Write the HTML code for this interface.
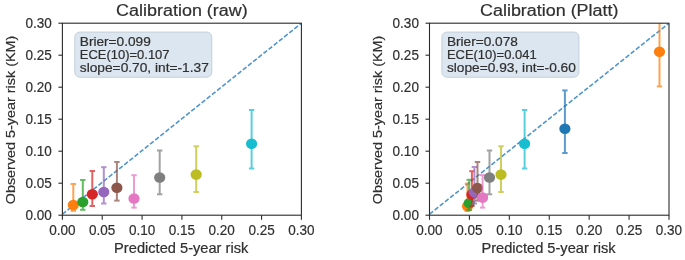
<!DOCTYPE html>
<html><head><meta charset="utf-8"><style>
html,body{margin:0;padding:0;background:#fff;}
svg{display:block;filter:blur(0.4px);}
text{font-family:"Liberation Sans",sans-serif;fill:#303030;stroke:#303030;stroke-width:0.2px;}
</style></head><body>
<svg width="685" height="260" viewBox="0 0 685 260">
<rect width="685" height="260" fill="#fff"/>
<text x="116.11" y="16.10" font-size="15.98" textLength="131.58" lengthAdjust="spacingAndGlyphs">Calibration (raw)</text>
<clipPath id="c62"><rect x="62.4" y="23.2" width="238.99999999999997" height="192.0"/></clipPath>
<g clip-path="url(#c62)">
<line x1="62.4" y1="214.2" x2="302.0" y2="22.7" stroke="#5095cb" stroke-width="1.6" stroke-dasharray="4.6 2.0"/>
<g stroke="#ff7f0e" stroke-width="2.0" opacity="0.72"><line x1="73.3" y1="184.0" x2="73.3" y2="210.8"/><line x1="70.6" y1="184.0" x2="76.0" y2="184.0"/><line x1="70.6" y1="210.8" x2="76.0" y2="210.8"/></g>
<ellipse cx="73.3" cy="205.0" rx="5.6" ry="5.3" fill="#ff7f0e"/>
<g stroke="#2ca02c" stroke-width="2.0" opacity="0.72"><line x1="82.8" y1="180.0" x2="82.8" y2="209.8"/><line x1="80.1" y1="180.0" x2="85.5" y2="180.0"/><line x1="80.1" y1="209.8" x2="85.5" y2="209.8"/></g>
<ellipse cx="82.8" cy="202.0" rx="5.6" ry="5.3" fill="#2ca02c"/>
<g stroke="#d62728" stroke-width="2.0" opacity="0.72"><line x1="92.3" y1="171.0" x2="92.3" y2="206.0"/><line x1="89.6" y1="171.0" x2="95.0" y2="171.0"/><line x1="89.6" y1="206.0" x2="95.0" y2="206.0"/></g>
<ellipse cx="92.3" cy="194.2" rx="5.6" ry="5.3" fill="#d62728"/>
<g stroke="#9467bd" stroke-width="2.0" opacity="0.72"><line x1="103.8" y1="167.2" x2="103.8" y2="203.5"/><line x1="101.1" y1="167.2" x2="106.5" y2="167.2"/><line x1="101.1" y1="203.5" x2="106.5" y2="203.5"/></g>
<ellipse cx="103.8" cy="192.0" rx="5.6" ry="5.3" fill="#9467bd"/>
<g stroke="#8c564b" stroke-width="2.0" opacity="0.72"><line x1="116.9" y1="162.0" x2="116.9" y2="200.6"/><line x1="114.2" y1="162.0" x2="119.60000000000001" y2="162.0"/><line x1="114.2" y1="200.6" x2="119.60000000000001" y2="200.6"/></g>
<ellipse cx="116.9" cy="187.8" rx="5.6" ry="5.3" fill="#8c564b"/>
<g stroke="#e377c2" stroke-width="2.0" opacity="0.72"><line x1="134.0" y1="175.2" x2="134.0" y2="207.6"/><line x1="131.3" y1="175.2" x2="136.7" y2="175.2"/><line x1="131.3" y1="207.6" x2="136.7" y2="207.6"/></g>
<ellipse cx="134.0" cy="198.5" rx="5.6" ry="5.3" fill="#e377c2"/>
<g stroke="#7f7f7f" stroke-width="2.0" opacity="0.72"><line x1="159.7" y1="150.5" x2="159.7" y2="194.3"/><line x1="157.0" y1="150.5" x2="162.39999999999998" y2="150.5"/><line x1="157.0" y1="194.3" x2="162.39999999999998" y2="194.3"/></g>
<ellipse cx="159.7" cy="177.5" rx="5.6" ry="5.3" fill="#7f7f7f"/>
<g stroke="#bcbd22" stroke-width="2.0" opacity="0.72"><line x1="196.2" y1="146.3" x2="196.2" y2="192.0"/><line x1="193.5" y1="146.3" x2="198.89999999999998" y2="146.3"/><line x1="193.5" y1="192.0" x2="198.89999999999998" y2="192.0"/></g>
<ellipse cx="196.2" cy="174.6" rx="5.6" ry="5.3" fill="#bcbd22"/>
<g stroke="#17becf" stroke-width="2.0" opacity="0.72"><line x1="251.6" y1="110.0" x2="251.6" y2="168.5"/><line x1="248.9" y1="110.0" x2="254.29999999999998" y2="110.0"/><line x1="248.9" y1="168.5" x2="254.29999999999998" y2="168.5"/></g>
<ellipse cx="251.6" cy="143.8" rx="5.6" ry="5.3" fill="#17becf"/>
</g>
<rect x="74.8" y="32.1" width="137.0" height="45.1" rx="5" ry="5" fill="#dce6f0" stroke="#c3cfdb" stroke-width="1"/>
<text x="79.80" y="45.60" font-size="11.96" textLength="70.98" lengthAdjust="spacingAndGlyphs">Brier=0.099</text>
<text x="79.80" y="59.00" font-size="11.96" textLength="89.75" lengthAdjust="spacingAndGlyphs">ECE(10)=0.107</text>
<text x="79.80" y="72.40" font-size="11.96" textLength="129.00" lengthAdjust="spacingAndGlyphs">slope=0.70, int=-1.37</text>
<rect x="62.4" y="23.2" width="238.99999999999997" height="192.0" fill="none" stroke="#2b2b2b" stroke-width="1.1"/>
<line x1="62.40" y1="215.2" x2="62.40" y2="219.79999999999998" stroke="#2b2b2b" stroke-width="1.1"/>
<line x1="58.4" y1="215.20" x2="62.4" y2="215.20" stroke="#2b2b2b" stroke-width="1.1"/>
<text x="49.25" y="235.00" font-size="14.02" textLength="26.29" lengthAdjust="spacingAndGlyphs">0.00</text>
<text x="25.51" y="219.60" font-size="14.02" textLength="26.29" lengthAdjust="spacingAndGlyphs">0.00</text>
<line x1="102.23" y1="215.2" x2="102.23" y2="219.79999999999998" stroke="#2b2b2b" stroke-width="1.1"/>
<line x1="58.4" y1="183.20" x2="62.4" y2="183.20" stroke="#2b2b2b" stroke-width="1.1"/>
<text x="89.09" y="235.00" font-size="14.02" textLength="26.29" lengthAdjust="spacingAndGlyphs">0.05</text>
<text x="25.51" y="187.60" font-size="14.02" textLength="26.29" lengthAdjust="spacingAndGlyphs">0.05</text>
<line x1="142.07" y1="215.2" x2="142.07" y2="219.79999999999998" stroke="#2b2b2b" stroke-width="1.1"/>
<line x1="58.4" y1="151.20" x2="62.4" y2="151.20" stroke="#2b2b2b" stroke-width="1.1"/>
<text x="128.92" y="235.00" font-size="14.02" textLength="26.29" lengthAdjust="spacingAndGlyphs">0.10</text>
<text x="25.51" y="155.60" font-size="14.02" textLength="26.29" lengthAdjust="spacingAndGlyphs">0.10</text>
<line x1="181.90" y1="215.2" x2="181.90" y2="219.79999999999998" stroke="#2b2b2b" stroke-width="1.1"/>
<line x1="58.4" y1="119.20" x2="62.4" y2="119.20" stroke="#2b2b2b" stroke-width="1.1"/>
<text x="168.75" y="235.00" font-size="14.02" textLength="26.29" lengthAdjust="spacingAndGlyphs">0.15</text>
<text x="25.51" y="123.60" font-size="14.02" textLength="26.29" lengthAdjust="spacingAndGlyphs">0.15</text>
<line x1="221.73" y1="215.2" x2="221.73" y2="219.79999999999998" stroke="#2b2b2b" stroke-width="1.1"/>
<line x1="58.4" y1="87.20" x2="62.4" y2="87.20" stroke="#2b2b2b" stroke-width="1.1"/>
<text x="208.59" y="235.00" font-size="14.02" textLength="26.29" lengthAdjust="spacingAndGlyphs">0.20</text>
<text x="25.51" y="91.60" font-size="14.02" textLength="26.29" lengthAdjust="spacingAndGlyphs">0.20</text>
<line x1="261.57" y1="215.2" x2="261.57" y2="219.79999999999998" stroke="#2b2b2b" stroke-width="1.1"/>
<line x1="58.4" y1="55.20" x2="62.4" y2="55.20" stroke="#2b2b2b" stroke-width="1.1"/>
<text x="248.42" y="235.00" font-size="14.02" textLength="26.29" lengthAdjust="spacingAndGlyphs">0.25</text>
<text x="25.51" y="59.60" font-size="14.02" textLength="26.29" lengthAdjust="spacingAndGlyphs">0.25</text>
<line x1="301.40" y1="215.2" x2="301.40" y2="219.79999999999998" stroke="#2b2b2b" stroke-width="1.1"/>
<line x1="58.4" y1="23.20" x2="62.4" y2="23.20" stroke="#2b2b2b" stroke-width="1.1"/>
<text x="288.25" y="235.00" font-size="14.02" textLength="26.29" lengthAdjust="spacingAndGlyphs">0.30</text>
<text x="25.51" y="27.60" font-size="14.02" textLength="26.29" lengthAdjust="spacingAndGlyphs">0.30</text>
<text x="114.11" y="253.00" font-size="13.79" textLength="134.19" lengthAdjust="spacingAndGlyphs">Predicted 5-year risk</text>
<text transform="translate(15.00,120.00) rotate(-90)" x="-84.26" y="0" font-size="13.13" textLength="168.51" lengthAdjust="spacingAndGlyphs">Observed 5-year risk (KM)</text>
<text x="480.04" y="16.10" font-size="15.98" textLength="138.43" lengthAdjust="spacingAndGlyphs">Calibration (Platt)</text>
<clipPath id="c429"><rect x="429.5" y="23.2" width="239.5" height="192.0"/></clipPath>
<g clip-path="url(#c429)">
<line x1="429.5" y1="214.2" x2="669.6" y2="22.7" stroke="#5095cb" stroke-width="1.6" stroke-dasharray="4.6 2.0"/>
<g stroke="#ff7f0e" stroke-width="2.0" opacity="0.72"><line x1="467.5" y1="183.6" x2="467.5" y2="211.0"/><line x1="464.8" y1="183.6" x2="470.2" y2="183.6"/><line x1="464.8" y1="211.0" x2="470.2" y2="211.0"/></g>
<ellipse cx="467.5" cy="206.3" rx="5.6" ry="5.3" fill="#ff7f0e"/>
<g stroke="#2ca02c" stroke-width="2.0" opacity="0.72"><line x1="469.2" y1="179.8" x2="469.2" y2="210.0"/><line x1="466.5" y1="179.8" x2="471.9" y2="179.8"/><line x1="466.5" y1="210.0" x2="471.9" y2="210.0"/></g>
<ellipse cx="469.2" cy="203.3" rx="5.6" ry="5.3" fill="#2ca02c"/>
<g stroke="#d62728" stroke-width="2.0" opacity="0.72"><line x1="471.9" y1="171.2" x2="471.9" y2="206.0"/><line x1="469.2" y1="171.2" x2="474.59999999999997" y2="171.2"/><line x1="469.2" y1="206.0" x2="474.59999999999997" y2="206.0"/></g>
<ellipse cx="471.9" cy="194.6" rx="5.6" ry="5.3" fill="#d62728"/>
<g stroke="#9467bd" stroke-width="2.0" opacity="0.72"><line x1="474.4" y1="167.0" x2="474.4" y2="203.5"/><line x1="471.7" y1="167.0" x2="477.09999999999997" y2="167.0"/><line x1="471.7" y1="203.5" x2="477.09999999999997" y2="203.5"/></g>
<ellipse cx="474.4" cy="192.3" rx="5.6" ry="5.3" fill="#9467bd"/>
<g stroke="#8c564b" stroke-width="2.0" opacity="0.72"><line x1="477.5" y1="162.0" x2="477.5" y2="200.6"/><line x1="474.8" y1="162.0" x2="480.2" y2="162.0"/><line x1="474.8" y1="200.6" x2="480.2" y2="200.6"/></g>
<ellipse cx="477.5" cy="188.0" rx="5.6" ry="5.3" fill="#8c564b"/>
<g stroke="#e377c2" stroke-width="2.0" opacity="0.72"><line x1="482.6" y1="175.1" x2="482.6" y2="207.6"/><line x1="479.90000000000003" y1="175.1" x2="485.3" y2="175.1"/><line x1="479.90000000000003" y1="207.6" x2="485.3" y2="207.6"/></g>
<ellipse cx="482.6" cy="197.6" rx="5.6" ry="5.3" fill="#e377c2"/>
<g stroke="#7f7f7f" stroke-width="2.0" opacity="0.72"><line x1="489.5" y1="150.5" x2="489.5" y2="194.3"/><line x1="486.8" y1="150.5" x2="492.2" y2="150.5"/><line x1="486.8" y1="194.3" x2="492.2" y2="194.3"/></g>
<ellipse cx="489.5" cy="177.5" rx="5.6" ry="5.3" fill="#7f7f7f"/>
<g stroke="#bcbd22" stroke-width="2.0" opacity="0.72"><line x1="501.0" y1="146.3" x2="501.0" y2="192.0"/><line x1="498.3" y1="146.3" x2="503.7" y2="146.3"/><line x1="498.3" y1="192.0" x2="503.7" y2="192.0"/></g>
<ellipse cx="501.0" cy="174.6" rx="5.6" ry="5.3" fill="#bcbd22"/>
<g stroke="#17becf" stroke-width="2.0" opacity="0.72"><line x1="524.6" y1="110.0" x2="524.6" y2="168.5"/><line x1="521.9" y1="110.0" x2="527.3000000000001" y2="110.0"/><line x1="521.9" y1="168.5" x2="527.3000000000001" y2="168.5"/></g>
<ellipse cx="524.6" cy="143.8" rx="5.6" ry="5.3" fill="#17becf"/>
<g stroke="#1f77b4" stroke-width="2.0" opacity="0.72"><line x1="564.9" y1="90.4" x2="564.9" y2="153.0"/><line x1="562.1999999999999" y1="90.4" x2="567.6" y2="90.4"/><line x1="562.1999999999999" y1="153.0" x2="567.6" y2="153.0"/></g>
<ellipse cx="564.9" cy="128.7" rx="5.6" ry="5.3" fill="#1f77b4"/>
<g stroke="#ff7f0e" stroke-width="2.0" opacity="0.72"><line x1="659.5" y1="15.0" x2="659.5" y2="86.4"/><line x1="656.8" y1="15.0" x2="662.2" y2="15.0"/><line x1="656.8" y1="86.4" x2="662.2" y2="86.4"/></g>
<ellipse cx="659.5" cy="51.7" rx="5.6" ry="5.3" fill="#ff7f0e"/>
</g>
<rect x="441.9" y="32.1" width="137.0" height="45.1" rx="5" ry="5" fill="#dce6f0" stroke="#c3cfdb" stroke-width="1"/>
<text x="446.90" y="45.60" font-size="11.96" textLength="70.98" lengthAdjust="spacingAndGlyphs">Brier=0.078</text>
<text x="446.90" y="59.00" font-size="11.96" textLength="89.75" lengthAdjust="spacingAndGlyphs">ECE(10)=0.041</text>
<text x="446.90" y="72.40" font-size="11.96" textLength="129.00" lengthAdjust="spacingAndGlyphs">slope=0.93, int=-0.60</text>
<rect x="429.5" y="23.2" width="239.5" height="192.0" fill="none" stroke="#2b2b2b" stroke-width="1.1"/>
<line x1="429.50" y1="215.2" x2="429.50" y2="219.79999999999998" stroke="#2b2b2b" stroke-width="1.1"/>
<line x1="425.5" y1="215.20" x2="429.5" y2="215.20" stroke="#2b2b2b" stroke-width="1.1"/>
<text x="416.35" y="235.00" font-size="14.02" textLength="26.29" lengthAdjust="spacingAndGlyphs">0.00</text>
<text x="392.61" y="219.60" font-size="14.02" textLength="26.29" lengthAdjust="spacingAndGlyphs">0.00</text>
<line x1="469.42" y1="215.2" x2="469.42" y2="219.79999999999998" stroke="#2b2b2b" stroke-width="1.1"/>
<line x1="425.5" y1="183.20" x2="429.5" y2="183.20" stroke="#2b2b2b" stroke-width="1.1"/>
<text x="456.27" y="235.00" font-size="14.02" textLength="26.29" lengthAdjust="spacingAndGlyphs">0.05</text>
<text x="392.61" y="187.60" font-size="14.02" textLength="26.29" lengthAdjust="spacingAndGlyphs">0.05</text>
<line x1="509.33" y1="215.2" x2="509.33" y2="219.79999999999998" stroke="#2b2b2b" stroke-width="1.1"/>
<line x1="425.5" y1="151.20" x2="429.5" y2="151.20" stroke="#2b2b2b" stroke-width="1.1"/>
<text x="496.19" y="235.00" font-size="14.02" textLength="26.29" lengthAdjust="spacingAndGlyphs">0.10</text>
<text x="392.61" y="155.60" font-size="14.02" textLength="26.29" lengthAdjust="spacingAndGlyphs">0.10</text>
<line x1="549.25" y1="215.2" x2="549.25" y2="219.79999999999998" stroke="#2b2b2b" stroke-width="1.1"/>
<line x1="425.5" y1="119.20" x2="429.5" y2="119.20" stroke="#2b2b2b" stroke-width="1.1"/>
<text x="536.10" y="235.00" font-size="14.02" textLength="26.29" lengthAdjust="spacingAndGlyphs">0.15</text>
<text x="392.61" y="123.60" font-size="14.02" textLength="26.29" lengthAdjust="spacingAndGlyphs">0.15</text>
<line x1="589.17" y1="215.2" x2="589.17" y2="219.79999999999998" stroke="#2b2b2b" stroke-width="1.1"/>
<line x1="425.5" y1="87.20" x2="429.5" y2="87.20" stroke="#2b2b2b" stroke-width="1.1"/>
<text x="576.02" y="235.00" font-size="14.02" textLength="26.29" lengthAdjust="spacingAndGlyphs">0.20</text>
<text x="392.61" y="91.60" font-size="14.02" textLength="26.29" lengthAdjust="spacingAndGlyphs">0.20</text>
<line x1="629.08" y1="215.2" x2="629.08" y2="219.79999999999998" stroke="#2b2b2b" stroke-width="1.1"/>
<line x1="425.5" y1="55.20" x2="429.5" y2="55.20" stroke="#2b2b2b" stroke-width="1.1"/>
<text x="615.94" y="235.00" font-size="14.02" textLength="26.29" lengthAdjust="spacingAndGlyphs">0.25</text>
<text x="392.61" y="59.60" font-size="14.02" textLength="26.29" lengthAdjust="spacingAndGlyphs">0.25</text>
<line x1="669.00" y1="215.2" x2="669.00" y2="219.79999999999998" stroke="#2b2b2b" stroke-width="1.1"/>
<line x1="425.5" y1="23.20" x2="429.5" y2="23.20" stroke="#2b2b2b" stroke-width="1.1"/>
<text x="655.85" y="235.00" font-size="14.02" textLength="26.29" lengthAdjust="spacingAndGlyphs">0.30</text>
<text x="392.61" y="27.60" font-size="14.02" textLength="26.29" lengthAdjust="spacingAndGlyphs">0.30</text>
<text x="481.46" y="253.00" font-size="13.79" textLength="134.19" lengthAdjust="spacingAndGlyphs">Predicted 5-year risk</text>
<text transform="translate(382.10,120.00) rotate(-90)" x="-84.26" y="0" font-size="13.13" textLength="168.51" lengthAdjust="spacingAndGlyphs">Observed 5-year risk (KM)</text>
</svg>
</body></html>
